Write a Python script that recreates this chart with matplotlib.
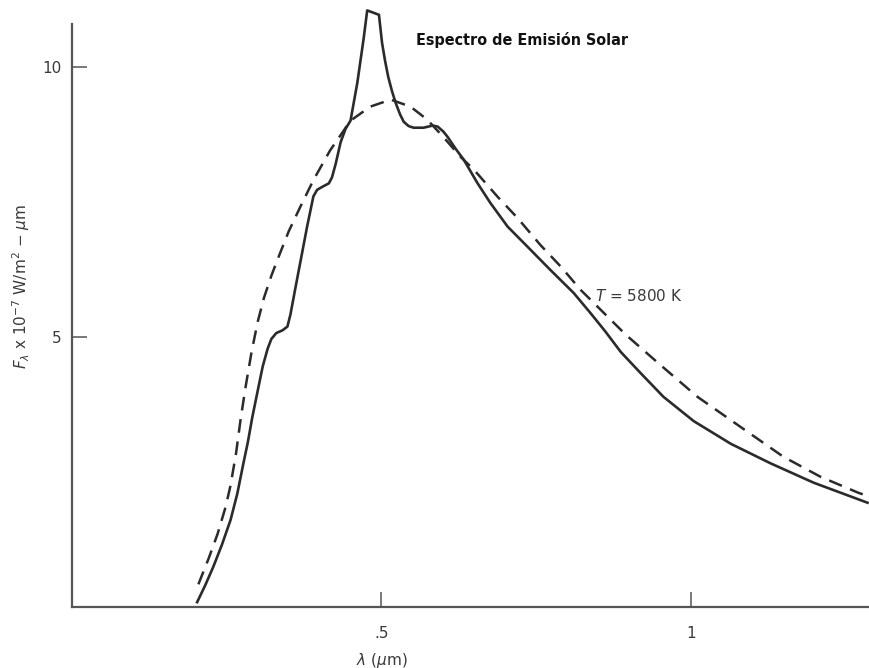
import matplotlib
matplotlib.use('Agg')
import matplotlib.pyplot as plt

# observed solar spectrum (solid line), lambda in um, F in 1e-7 W/m^2-um
sun_wl = [0.202, 0.215, 0.228, 0.242, 0.256, 0.267, 0.277, 0.284, 0.291, 0.299,
          0.308, 0.316, 0.322, 0.330, 0.340, 0.348, 0.353, 0.360, 0.370, 0.380,
          0.390, 0.396, 0.405, 0.415, 0.420, 0.426, 0.434, 0.442, 0.450, 0.461,
          0.471, 0.477, 0.496, 0.501, 0.506, 0.511, 0.517, 0.523, 0.530, 0.536,
          0.544, 0.552, 0.568, 0.583, 0.591, 0.600, 0.607, 0.620, 0.633, 0.655,
          0.676, 0.704, 0.736, 0.773, 0.811, 0.838, 0.862, 0.887, 0.919, 0.956,
          1.005, 1.065, 1.129, 1.199, 1.286]
sun_flux = [0.09, 0.40, 0.74, 1.15, 1.61, 2.10, 2.67, 3.05, 3.50, 3.95,
            4.45, 4.78, 4.96, 5.07, 5.12, 5.19, 5.42, 5.85, 6.45, 7.05,
            7.60, 7.72, 7.78, 7.84, 7.95, 8.20, 8.60, 8.85, 9.00, 9.70,
            10.5, 11.04, 10.96, 10.44, 10.1, 9.81, 9.55, 9.33, 9.12, 8.98,
            8.90, 8.87, 8.87, 8.91, 8.89, 8.80, 8.70, 8.48, 8.28, 7.85,
            7.48, 7.04, 6.67, 6.24, 5.81, 5.44, 5.10, 4.72, 4.33, 3.89,
            3.44, 3.02, 2.66, 2.30, 1.93]

# blackbody T = 5800 K (dashed line)
bb_wl = [0.204, 0.220, 0.235, 0.248, 0.256, 0.265, 0.272, 0.280, 0.290, 0.300,
         0.310, 0.322, 0.332, 0.350, 0.369, 0.390, 0.417, 0.450, 0.482, 0.515,
         0.547, 0.574, 0.600, 0.628, 0.649, 0.688, 0.720, 0.757, 0.790, 0.822,
         0.866, 0.895, 0.947, 1.011, 1.081, 1.150, 1.210, 1.272, 1.288]
bb_flux = [0.42, 0.88, 1.35, 1.85, 2.25, 2.85, 3.45, 4.05, 4.72, 5.28,
           5.72, 6.13, 6.43, 6.95, 7.41, 7.90, 8.45, 9.00, 9.26, 9.39,
           9.26, 9.02, 8.70, 8.33, 8.10, 7.59, 7.20, 6.70, 6.30, 5.87,
           5.37, 5.04, 4.52, 3.89, 3.33, 2.78, 2.41, 2.11, 2.05]

x_ticks = [0.5, 1.0]
x_ticklabels = ['.5', '1']
y_ticks = [5, 10]
y_ticklabels = ['5', '10']

XMAX = 1.29
YMAX = 11.2
line_color = '#2b2b2b'
text_color = '#3a3a3a'

fig = plt.figure(figsize=(8.7, 6.68), dpi=100)
ax = fig.add_axes([0.083, 0.0913, 0.917, 0.906])

ax.plot(sun_wl, sun_flux, color=line_color, linewidth=1.9, solid_joinstyle='round')
ax.plot(bb_wl, bb_flux, color=line_color, linewidth=1.8, linestyle=(0, (5.5, 3.5)))

ax.set_xlim(0, XMAX)
ax.set_ylim(0, YMAX)

for side in ['top', 'right']:
    ax.spines[side].set_visible(False)
ax.spines['left'].set_bounds(0, 10.78)
for side in ['left', 'bottom']:
    ax.spines[side].set_color('#555555')
    ax.spines[side].set_linewidth(1.6)

ax.set_xticks(x_ticks)
ax.set_xticklabels(x_ticklabels)
ax.set_yticks(y_ticks)
ax.set_yticklabels(y_ticklabels)
ax.tick_params(axis='both', direction='in', length=11, width=1.1, colors='#555555',
               labelcolor=text_color, labelsize=11)
ax.tick_params(axis='y', pad=8)
ax.tick_params(axis='x', pad=14)

ax.set_xlabel(r'$\lambda$ ($\mu$m)', fontsize=11, color=text_color)
ax.xaxis.set_label_coords(0.5 / XMAX, -0.072)
ax.set_ylabel(r'$F_\lambda$ x 10$^{-7}$ W/m$^2$ $-$ $\mu$m', fontsize=11, color=text_color)
ax.yaxis.set_label_coords(-0.05, 0.53)

ax.text(0.728, 10.5, 'Espectro de Emisión Solar', fontsize=11.5, fontweight='bold',
        fontstretch='condensed', family='DejaVu Sans', color='#111111',
        ha='center', va='center')
ax.text(0.846, 5.76, r'$T$ = 5800 K', fontsize=11, color=text_color, va='center')

plt.savefig('out.png', dpi=100)
plt.close()
